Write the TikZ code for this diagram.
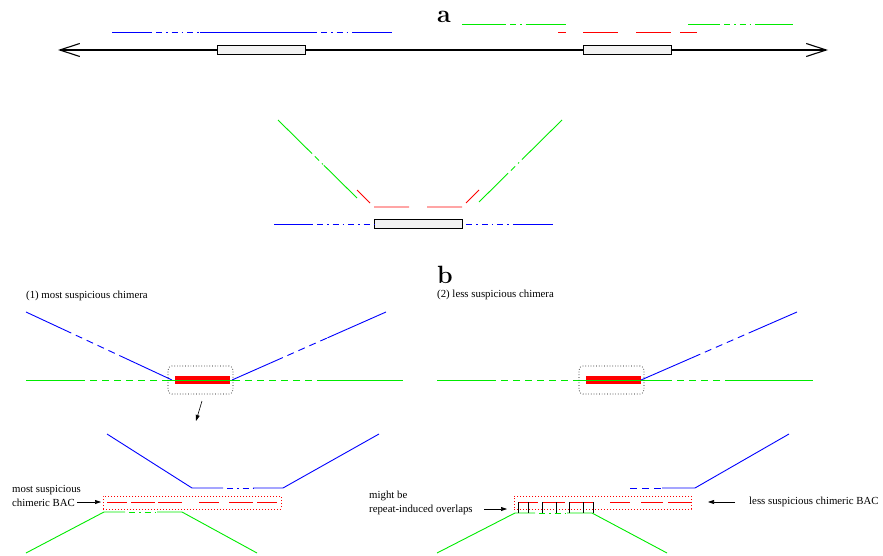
\documentclass[tikz,border=0pt]{standalone}
\usepackage{fontspec}
\usepackage{tikz}
\usetikzlibrary{arrows.meta, calc, positioning}
\newfontfamily\timesfont{Liberation Serif}
\definecolor{figgreen}{RGB}{0,235,0}

% solid -- broken -- solid along one straight line
\newcommand{\brokenline}[6]{%
  \draw[#1] (#3) -- ($(#3)!#5!(#4)$);
  \draw[#1,#2] ($(#3)!#5!(#4)$) -- ($(#3)!#6!(#4)$);
  \draw[#1] ($(#3)!#6!(#4)$) -- (#4);}

\begin{document}
\begin{tikzpicture}[x=1pt, y=-1pt,
    bl/.style={blue, line width=0.9pt},
    gr/.style={figgreen, line width=0.9pt},
    rd/.style={red, line width=0.9pt},
    ddot/.style={dash pattern=on 6pt off 4pt on 1.5pt off 4pt, dash phase=11.5pt},
    dsh/.style={dash pattern=on 7pt off 5pt, dash phase=7pt},
    axis/.style={line width=1.1pt, arrows={Straight Barb[length=20pt,width=13pt]-Straight Barb[length=20pt,width=13pt]}},
    repbox/.style={draw, fill=gray!10, line width=0.7pt, minimum width=88pt, minimum height=9pt, inner sep=0pt},
    bar/.style={fill=red, minimum width=55pt, minimum height=8pt, inner sep=0pt},
    zoombox/.style={draw, dotted, line width=0.7pt, rounded corners=4pt, minimum width=65pt, minimum height=28pt, inner sep=0pt},
    bacbox/.style={draw=red, dash pattern=on 1pt off 2pt, line width=0.7pt, minimum height=13pt, inner sep=0pt},
    txt/.style={font=\timesfont\fontsize{10.8}{13.5}\selectfont, inner sep=0pt, align=left},
    lbl/.style={font=\fontsize{25}{25}\selectfont\bfseries, inner sep=0pt, anchor=base west},
    pointer/.style={line width=0.6pt, arrows={-Triangle[length=6pt,width=4pt]}}]
  \useasboundingbox (0,0) rectangle (883,556);

  %% a: repeats on the map
  \node[lbl] (la) at (437,23) {a};
  \coordinate (axL) at (58,50);
  \coordinate (axR) at (828,50);
  \draw[axis] (axL) -- (axR);
  \node[repbox] (rep1) at (261,50) {};
  \node[repbox] (rep2) at (627,50) {};
  \draw[bl] (112,32) -- (152,32) (200,32) -- (317,32) (355,32) -- (392,32);
  \draw[bl, ddot] (152,32) -- (200,32) (317,32) -- (355,32);
  \draw[gr] (462,24) -- (506,24) (532,24) -- (566,24) (688,24) -- (720,24) (757,24) -- (793,24);
  \draw[gr, ddot] (506,24) -- (532,24) (720,24) -- (757,24);
  \foreach \s/\e in {558/566, 583/618, 636/671, 680/697}
    \draw[rd] (\s,32) -- (\e,32);

  % folded onto one copy
  \node[repbox] (rep3) at (418,224) {};
  \draw[bl] (274,224) -- (313,224) (517,224) -- (553,224);
  \draw[bl, ddot] (313,224) -- (rep3.west) (rep3.east) -- (517,224);
  \coordinate (g1) at (278,120);
  \coordinate (g2) at (357,198);
  \brokenline{gr}{ddot}{g1}{g2}{0.43}{0.58}
  \coordinate (g3) at (479,202);
  \coordinate (g4) at (562,120);
  \brokenline{gr}{ddot}{g3}{g4}{0.35}{0.53}
  \draw[rd] (357,190) -- (370,203) (374,207) -- (409,207) (427,207) -- (462,207) (466,203) -- (479,190);

  %% b (1)
  \node[txt, anchor=west] (t1) at (26,296) {(1) most suspicious chimera};
  \coordinate (b1) at (26,312);
  \coordinate (b2) at (172,380);
  \brokenline{bl}{dsh}{b1}{b2}{0.31}{0.68}
  \coordinate (b3) at (232,380);
  \coordinate (b4) at (386,312);
  \brokenline{bl}{dsh}{b3}{b4}{0.33}{0.62}
  \node[bar] (bar1) at (202.5,380) {};
  \draw[gr] (26,380) -- (85,380) (168,380) -- (240,380) (318,380) -- (403,380);
  \draw[gr, dsh] (85,380) -- (168,380) (240,380) -- (318,380);
  \node[zoombox] (zoom1) at (200.5,380) {};
  \coordinate (dn1) at (202,401);
  \coordinate (dn2) at (196,421);
  \draw[pointer] (dn1) -- (dn2);

  \draw[bl] (107,434) -- (192,488) -- (223,488) (253,488) -- (283,488) -- (379,434);
  \draw[bl, ddot] (223,488) -- (253,488);
  \draw[gr] (26,553) -- (104,512) -- (125,512) (157,512) -- (182,512) -- (257,553);
  \draw[gr, ddot] (125,512) -- (157,512);
  \node[bacbox, minimum width=178pt] (bac1) at (192,502.5) {};
  \foreach \s/\e in {107/127, 131/155, 158/182, 199/219, 229/253, 257/277}
    \draw[rd] (\s,502) -- (\e,502);
  \node[txt, anchor=west] (most) at (12,496) {most suspicious\\chimeric BAC};
  \coordinate (m1) at (77,502);
  \coordinate (m2) at (101,502);
  \draw[pointer] (m1) -- (m2);

  %% b (2)
  \node[lbl] (lb) at (437,283) {b};
  \node[txt, anchor=west] (t2) at (437,295) {(2) less suspicious chimera};
  \node[bar] (bar2) at (613.5,380) {};
  \draw[gr] (437,380) -- (496,380) (580,380) -- (672,380) (728,380) -- (813,380);
  \draw[gr, dsh] (496,380) -- (580,380) (672,380) -- (728,380);
  \node[zoombox] (zoom2) at (611.5,380) {};
  \coordinate (b5) at (641,380);
  \coordinate (b6) at (797,312);
  \brokenline{bl}{dsh}{b5}{b6}{0.38}{0.69}

  \draw[bl, dsh] (625,488) -- (662,488);
  \draw[bl] (662,488) -- (695,488) -- (789,434);
  \draw[gr] (437,553) -- (515,513) -- (535,513) (567,513) -- (592,513) -- (667,553);
  \draw[gr, ddot] (535,513) -- (567,513);
  \node[bacbox, minimum width=177pt] (bac2) at (602.5,502.5) {};
  \foreach \s/\e in {518/538, 542/565, 569/593, 610/630, 641/663, 668/692}
    \draw[rd] (\s,502) -- (\e,502);
  % overlaps
  \foreach \x in {518, 528, 542, 556, 569, 583, 593}
    \draw[line width=0.6pt] (\x,502) -- (\x,513);
  \node[txt, anchor=west] (ovl) at (369,503) {might be\\repeat-induced overlaps};
  \coordinate (r1) at (484,509);
  \coordinate (r2) at (507,509);
  \draw[pointer] (r1) -- (r2);
  \node[txt, anchor=west] (less) at (749,502) {less suspicious chimeric BAC};
  \coordinate (l1) at (735,502);
  \coordinate (l2) at (708,502);
  \draw[pointer] (l1) -- (l2);
\end{tikzpicture}
\end{document}
